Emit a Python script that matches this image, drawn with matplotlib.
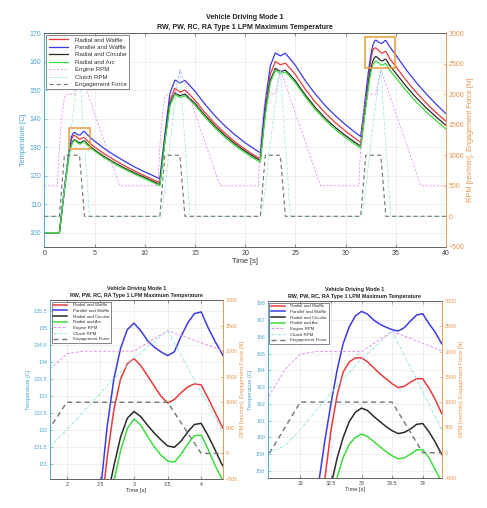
import matplotlib
matplotlib.use("Agg")
import matplotlib.pyplot as plt
from matplotlib.patches import Rectangle
from matplotlib.ticker import FuncFormatter

plt.rcParams['font.family'] = ['Liberation Sans', 'DejaVu Sans']

# ---- data ----
time_s = [0, 1.5, 2.0, 2.5, 2.6, 2.7, 2.8, 2.9, 3.0, 3.1, 3.2, 3.3, 3.4, 3.5, 3.6, 3.7, 3.8, 3.9, 4.0, 4.1, 4.2, 4.3, 4.5,
          5, 6, 7, 8, 9, 10, 11, 11.5,
          12.0, 12.5, 13.0, 13.5, 14.0, 14.5, 15, 16, 17, 18, 19, 20, 21, 21.5,
          22.0, 22.5, 23.0, 23.5, 24.0, 24.5, 25, 26, 27, 28, 29, 30, 31, 31.5,
          32.0, 32.25, 32.4, 32.5, 32.6, 32.7, 32.8, 32.9, 33.0, 33.1, 33.2, 33.3, 33.4, 33.5, 33.6, 33.7, 33.8, 33.9,
          34.0, 34.1, 34.2, 34.3, 34.5, 35, 36, 37, 38, 39, 40]

temp_rw = [100, 100, 115.2, 129.4, 131.2, 132.6, 133.5, 133.95, 134.1, 133.9, 133.6, 133.3, 133.0, 132.8, 132.9, 133.1,
           133.27, 133.36, 133.33, 132.95, 132.55, 132.15, 131.5,
           130.0, 127.6, 125.4, 123.4, 121.6, 119.9, 118.3, 117.5,
           133.0, 146.3, 150.6, 149.3, 150.0, 148.3, 146.4, 142.1, 138.2, 134.8, 131.8, 129.2, 126.9, 125.9,
           143.5, 155.6, 160.0, 158.9, 159.4, 157.5, 155.4, 150.2, 145.7, 141.8, 138.5, 135.55, 132.9, 131.65,
           145.5, 153.0, 157.5, 160.4, 162.5, 163.9, 164.5, 164.75, 164.75, 164.5, 164.15, 163.8, 163.5, 163.2, 162.97,
           163.05, 163.3, 163.5, 163.5, 162.95, 162.3, 161.5, 160.5, 158.2, 153.5, 149.3, 145.5, 142.1, 139.0]

temp_pw = [100, 100, 115.5, 130.2, 132.1, 133.5, 134.4, 134.95, 135.14, 134.92, 134.63, 134.44, 134.3, 134.19, 134.3,
           134.75, 135.15, 135.42, 135.47, 135.02, 134.63, 134.28, 133.6,
           132.1, 129.4, 127.1, 125.0, 123.0, 121.3, 119.7, 118.9,
           134.3, 148.8, 153.5, 152.5, 153.4, 151.5, 149.6, 145.0, 140.9, 137.35, 134.25, 131.5, 129.1, 128.0,
           146.0, 158.5, 163.0, 162.0, 162.9, 160.8, 158.6, 153.2, 148.5, 144.4, 140.9, 137.8, 135.0, 133.7,
           148.5, 156.0, 159.8, 162.0, 164.0, 165.6, 166.6, 167.25, 167.52, 167.35, 167.0, 166.75, 166.58, 166.43, 166.35,
           166.55, 166.95, 167.3, 167.38, 166.8, 166.3, 165.65, 164.65, 162.25, 157.25, 152.75, 148.75, 145.05, 141.65]

temp_rc = [100, 100, 115.0, 128.8, 130.0, 130.95, 131.8, 132.35, 132.55, 132.4, 132.15, 131.92, 131.72, 131.54, 131.5,
           131.68, 131.95, 132.17, 132.2, 131.85, 131.45, 131.03, 130.4,
           129.0, 126.6, 124.5, 122.6, 120.9, 119.3, 117.7, 116.9,
           132.3, 145.0, 149.0, 148.0, 148.6, 147.0, 145.3, 141.1, 137.3, 134.0, 131.1, 128.55, 126.3, 125.3,
           142.2, 153.4, 157.6, 156.5, 157.0, 155.2, 153.2, 148.2, 143.8, 140.0, 136.8, 134.0, 131.5, 130.3,
           144.5, 151.5, 155.3, 157.1, 158.75, 160.0, 160.95, 161.5, 161.75, 161.6, 161.25, 160.95, 160.65, 160.4, 160.23,
           160.3, 160.5, 160.78, 160.83, 160.35, 159.75, 159.05, 158.1, 155.9, 151.4, 147.4, 143.8, 140.6, 137.6]

temp_ra = [100, 100, 114.8, 127.8, 129.4, 130.5, 131.4, 132.05, 132.33, 132.15, 131.82, 131.52, 131.27, 131.1, 131.06,
           131.3, 131.6, 131.84, 131.86, 131.45, 131.0, 130.6, 130.0,
           128.6, 126.2, 124.1, 122.2, 120.5, 118.9, 117.3, 116.4,
           131.8, 144.4, 148.4, 147.4, 148.0, 146.4, 144.7, 140.5, 136.7, 133.4, 130.5, 127.95, 125.7, 124.7,
           141.5, 152.7, 156.9, 155.8, 156.3, 154.5, 152.5, 147.5, 143.1, 139.3, 136.1, 133.3, 130.8, 129.6,
           143.8, 150.5, 154.2, 156.0, 157.6, 158.8, 159.6, 160.0, 160.2, 160.05, 159.75, 159.45, 159.15, 158.9, 158.72,
           158.78, 159.0, 159.25, 159.28, 158.8, 158.1, 157.4, 156.5, 154.3, 149.9, 145.9, 142.4, 139.3, 136.3]

engine_time = [0, 1.3, 1.5, 1.75, 2.0, 2.25, 3.0, 3.5, 7.5,
               11.3, 11.5, 11.75, 12.0, 12.25, 13.0, 13.5, 17.5,
               21.3, 21.5, 21.75, 22.0, 22.25, 23.0, 23.5, 27.5,
               31.3, 31.5, 31.75, 32.0, 32.25, 33.0, 33.5, 37.5, 40]
engine_rpm = [500, 500, 1150, 1650, 1950, 2000, 2000, 2400, 500,
              500, 1150, 1650, 1950, 2000, 2000, 2400, 500,
              500, 1150, 1650, 1950, 2000, 2000, 2400, 500,
              500, 1150, 1650, 1950, 2000, 2000, 2400, 500, 500]

clutch_time = [0, 1.5, 1.75, 2.0, 2.5, 3.0, 3.5, 4.5,
               11.5, 11.75, 12.0, 12.5, 13.0, 13.5, 14.5,
               21.5, 21.75, 22.0, 22.5, 23.0, 23.5, 24.5,
               31.5, 31.75, 32.0, 32.5, 33.0, 33.5, 34.5, 40]
clutch_rpm = [0, 0, 140, 460, 1180, 1860, 2400, 0,
              0, 140, 460, 1180, 1860, 2400, 0,
              0, 140, 460, 1180, 1860, 2400, 0,
              0, 140, 460, 1180, 1860, 2400, 0, 0]

force_time = [0, 1.5, 2.0, 3.5, 4.0, 11.5, 12.0, 13.5, 14.0, 21.5, 22.0, 23.5, 24.0, 31.5, 32.0, 33.5, 34.0, 40]
force_n = [0, 0, 1000, 1000, 0, 0, 1000, 1000, 0, 0, 1000, 1000, 0, 0, 1000, 1000, 0, 0]

temp_names = ["Radial and Waffle", "Parallel and Waffle", "Radial and Circular", "Radial and Arc"]
rpm_names = ["Engine RPM", "Clutch RPM", "Engagement Force"]

title_text = "Vehicle Driving Mode 1\nRW, PW, RC, RA Type 1 LPM Maximum Temperature"

# ---- styles ----
LEFT_C = '#4aa3d3'
RIGHT_C = '#e8944a'
temp_colors = ['#e83a3a', '#3a3ae6', '#2a2a2a', '#3ddc3d']
rpm_styles = [dict(color='#e58ae5', ls=(0, (3, 2))),
              dict(color='#86e3e3', ls=(0, (3, 1.5, 1, 1.5))),
              dict(color='#7a7a7a', ls=(0, (3.5, 2.5)))]

# matlab style tick labels: 2, 2.5, 135 ...
gfmt = FuncFormatter(lambda v, pos: '%g' % round(v, 3))


def draw_panel(ax, xlim, tlim, xticks, tticks, fs, lw, leg_fs, tpad, tspace):
    ax2 = ax.twinx()
    handles = []
    for vals, name, c in zip([temp_rw, temp_pw, temp_rc, temp_ra], temp_names, temp_colors):
        h, = ax.plot(time_s, vals, color=c, lw=lw, label=name)
        handles.append(h)
    for (tx, ty), name, st in zip([(engine_time, engine_rpm), (clutch_time, clutch_rpm), (force_time, force_n)],
                                  rpm_names, rpm_styles):
        w = lw * 0.95 if name == "Engagement Force" else lw * 0.6
        h, = ax2.plot(tx, ty, lw=w, label=name, **st)
        handles.append(h)

    ax.set_xlim(*xlim)
    ax.set_ylim(*tlim)
    ax2.set_ylim(-500, 3000)
    ax.set_xticks(xticks)
    ax.set_yticks(tticks)
    ax2.set_yticks(range(-500, 3001, 500))
    ax.xaxis.set_major_formatter(gfmt)
    ax.yaxis.set_major_formatter(gfmt)
    ax.grid(True, color='#e4e4e4', lw=0.4)

    ax.tick_params(axis='x', labelsize=fs, colors='#444444', direction='in', length=2, width=0.4, pad=2, top=True)
    ax.tick_params(axis='y', labelsize=fs, colors=LEFT_C, direction='in', length=2, width=0.4, pad=2)
    ax2.tick_params(axis='y', labelsize=fs, colors=RIGHT_C, direction='in', length=2, width=0.4, pad=2)

    for a in (ax, ax2):
        for s in a.spines.values():
            s.set_linewidth(0.5)
            s.set_color('#555555')
    ax.spines['left'].set_color(LEFT_C)
    ax2.spines['left'].set_color(LEFT_C)
    ax2.spines['right'].set_color(RIGHT_C)
    ax.spines['right'].set_color(RIGHT_C)

    ax.set_xlabel("Time [s]", fontsize=fs * 1.07, color='#333333', labelpad=1)
    ax.set_ylabel("Temperature [C]", fontsize=fs * 1.07, color=LEFT_C, labelpad=2)
    ax2.set_ylabel("RPM [rev/min], Engagement Force [N]", fontsize=fs * 1.07, color=RIGHT_C, labelpad=2)
    ax.set_title(title_text, fontsize=fs * 1.02, fontweight='bold', color='#222222', pad=tpad, linespacing=tspace)

    leg = ax2.legend(handles=handles, loc='upper left', fontsize=leg_fs, frameon=True, fancybox=False,
                     framealpha=1, edgecolor='#555555', borderaxespad=0.35, handlelength=3.2,
                     labelspacing=0.35, borderpad=0.35, handletextpad=1.2)
    leg.get_frame().set_linewidth(0.5)
    for t in leg.get_texts():
        t.set_color('#333333')
    return ax, ax2


fig = plt.figure(figsize=(4.87, 5.08), dpi=100)
ax_top = fig.add_axes([0.091, 0.514, 0.825, 0.421])
ax_bl = fig.add_axes([0.1027, 0.0571, 0.3546, 0.3524])
ax_br = fig.add_axes([0.5497, 0.0591, 0.3573, 0.3484])

draw_panel(ax_top, (0, 40), (95, 170), range(0, 41, 5), range(100, 171, 10), 5.0, 0.9, 4.4, 3.2, 1.55)
draw_panel(ax_bl, (1.75, 4.32), (130.57, 135.82), [2, 2.5, 3, 3.5, 4],
           [131 + 0.5 * i for i in range(10)], 3.8, 1.1, 3.2, 2.5, 1.45)
draw_panel(ax_br, (31.467, 34.31), (157.58, 168.14), [32, 32.5, 33, 33.5, 34],
           range(158, 169), 3.8, 1.1, 3.2, 2.5, 1.45)

# zoom boxes marking the detail regions
for x0, y0, w, h in [(2.45, 129.4, 2.1, 7.3), (31.9, 157.8, 3.0, 10.9)]:
    ax_top.add_patch(Rectangle((x0, y0), w, h, fill=False, edgecolor='#ee9a3a', lw=1.1, zorder=5))

fig.savefig("out.png", dpi=100)
